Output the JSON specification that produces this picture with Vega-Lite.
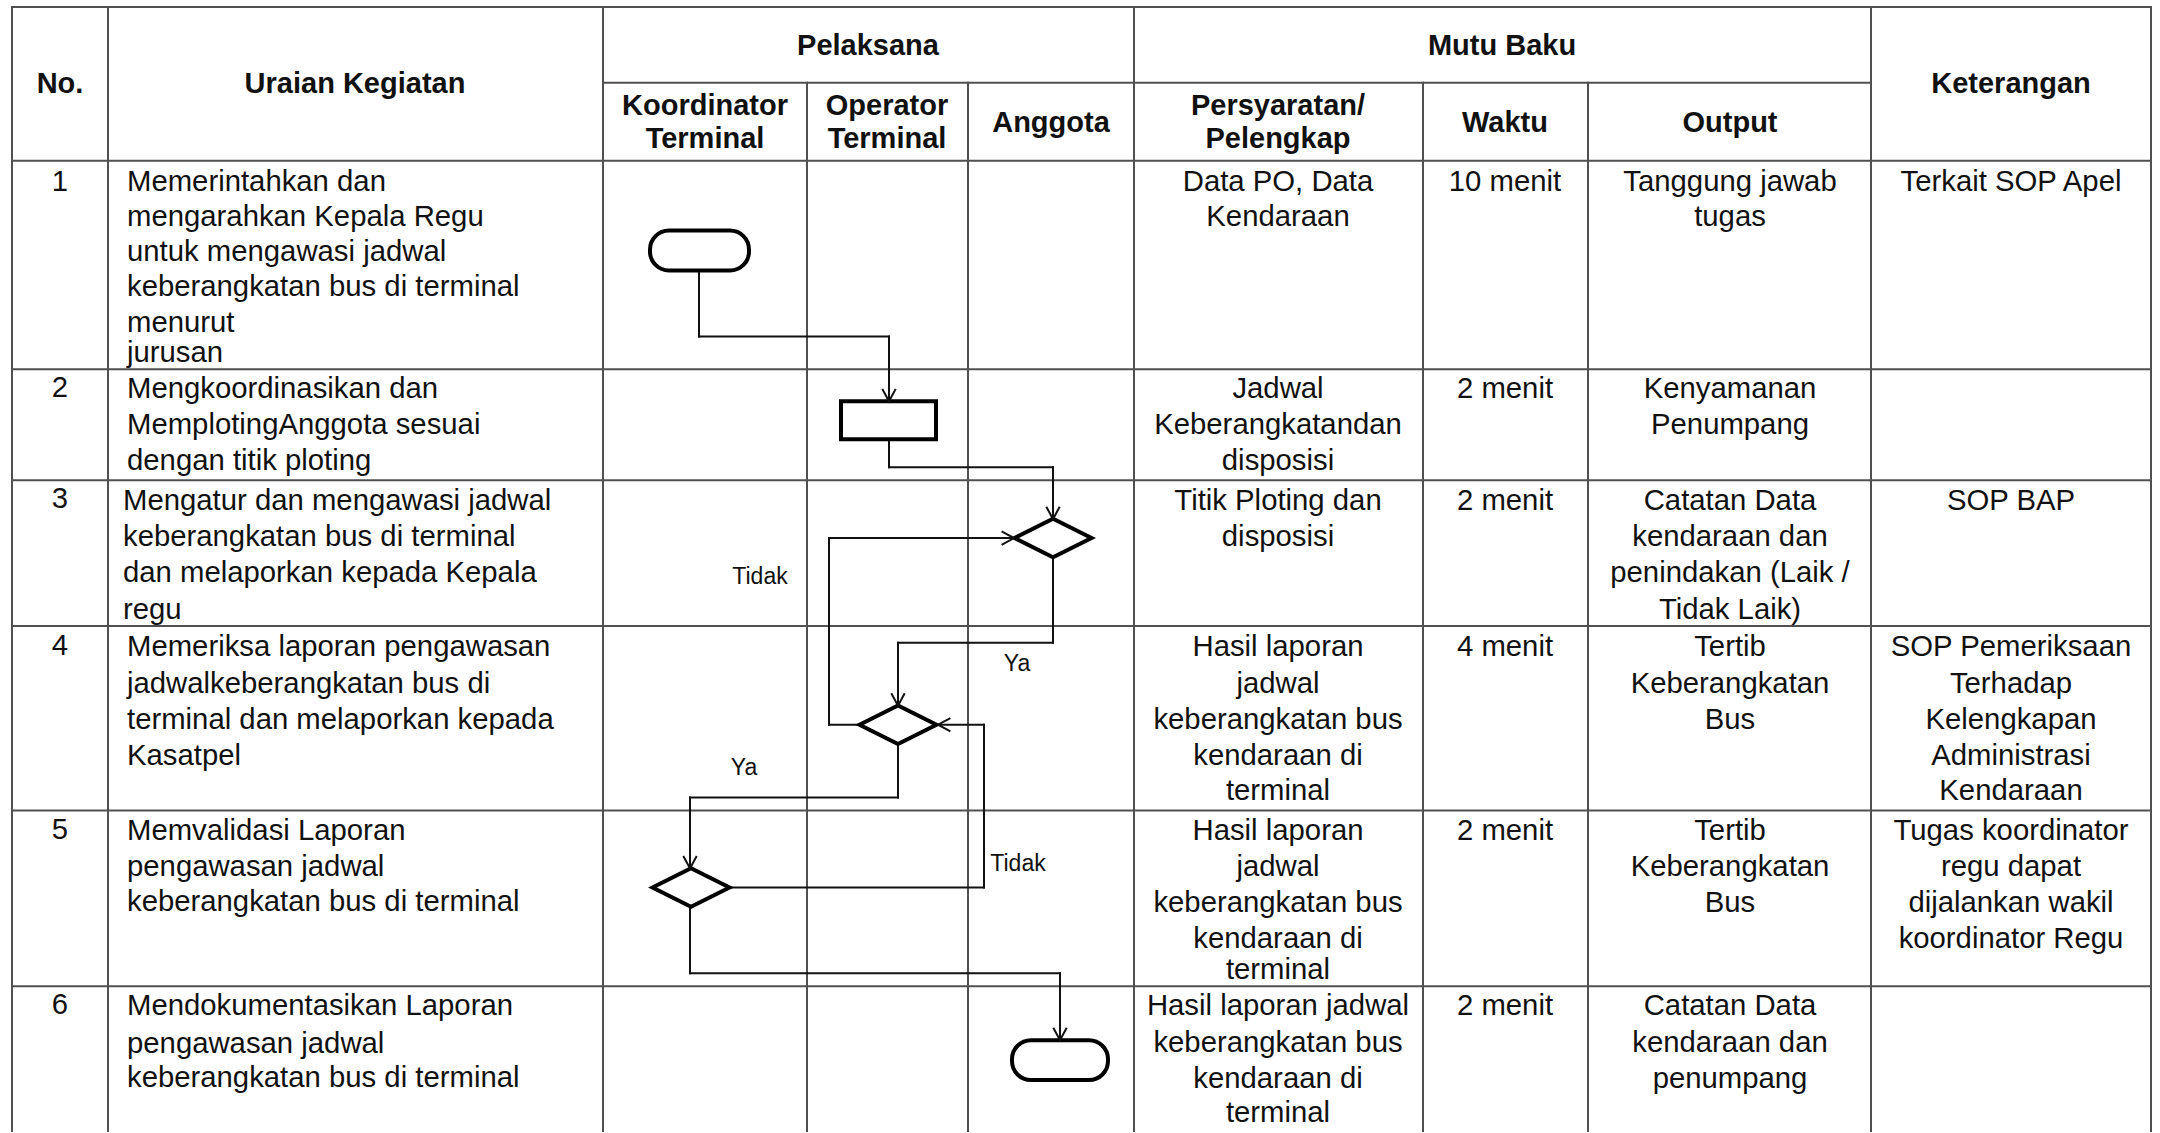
{
  "$schema": "https://vega.github.io/schema/vega-lite/v6.json",
  "width": 2160,
  "height": 1133,
  "autosize": {"type": "fit", "contains": "padding"},
  "padding": 0,
  "background": "white",
  "config": {"view": {"stroke": null}},
  "datasets": {
    "grid": [
      {"x": 12, "y": 7, "xe": 2151, "ye": 7},
      {"x": 603, "y": 83, "xe": 1871, "ye": 83},
      {"x": 12, "y": 161, "xe": 2151, "ye": 161},
      {"x": 12, "y": 370, "xe": 2151, "ye": 370},
      {"x": 12, "y": 481, "xe": 2151, "ye": 481},
      {"x": 12, "y": 627, "xe": 2151, "ye": 627},
      {"x": 12, "y": 812, "xe": 2151, "ye": 812},
      {"x": 12, "y": 988, "xe": 2151, "ye": 988},
      {"x": 12, "y": 7, "xe": 12, "ye": 1133},
      {"x": 108, "y": 7, "xe": 108, "ye": 1133},
      {"x": 603, "y": 7, "xe": 603, "ye": 1133},
      {"x": 1134, "y": 7, "xe": 1134, "ye": 1133},
      {"x": 1871, "y": 7, "xe": 1871, "ye": 1133},
      {"x": 2151, "y": 7, "xe": 2151, "ye": 1133},
      {"x": 807, "y": 83, "xe": 807, "ye": 1133},
      {"x": 968, "y": 83, "xe": 968, "ye": 1133},
      {"x": 1423, "y": 83, "xe": 1423, "ye": 1133},
      {"x": 1588, "y": 83, "xe": 1588, "ye": 1133}
    ],
    "conn": [
      {"x": 699, "y": 271, "xe": 699, "ye": 337},
      {"x": 699, "y": 337, "xe": 889, "ye": 337},
      {"x": 889, "y": 337, "xe": 889, "ye": 402},
      {"x": 889, "y": 440, "xe": 889, "ye": 468},
      {"x": 889, "y": 468, "xe": 1053, "ye": 468},
      {"x": 1053, "y": 468, "xe": 1053, "ye": 520},
      {"x": 860, "y": 726, "xe": 829, "ye": 726},
      {"x": 829, "y": 726, "xe": 829, "ye": 539},
      {"x": 829, "y": 539, "xe": 1014, "ye": 539},
      {"x": 1053, "y": 559, "xe": 1053, "ye": 644},
      {"x": 1053, "y": 644, "xe": 898, "ye": 644},
      {"x": 898, "y": 644, "xe": 898, "ye": 707},
      {"x": 898, "y": 746, "xe": 898, "ye": 799},
      {"x": 898, "y": 799, "xe": 690, "ye": 799},
      {"x": 690, "y": 799, "xe": 690, "ye": 870},
      {"x": 729, "y": 889, "xe": 984, "ye": 889},
      {"x": 984, "y": 889, "xe": 984, "ye": 726},
      {"x": 984, "y": 726, "xe": 938, "ye": 726},
      {"x": 690, "y": 907, "xe": 690, "ye": 975},
      {"x": 690, "y": 975, "xe": 1060, "ye": 975},
      {"x": 1060, "y": 975, "xe": 1060, "ye": 1042}
    ],
    "arrows": [
      {"x": 889, "y": 402, "a": 0},
      {"x": 1053, "y": 520, "a": 0},
      {"x": 1014, "y": 539, "a": -90},
      {"x": 898, "y": 707, "a": 0},
      {"x": 690, "y": 870, "a": 0},
      {"x": 938, "y": 726, "a": 90},
      {"x": 1060, "y": 1042, "a": 0}
    ],
    "procs": [
      {"x": 841, "y": 402, "xe": 936, "ye": 440}
    ],
    "terms": [
      {"x": 650, "y": 231, "xe": 749, "ye": 271},
      {"x": 1012, "y": 1042, "xe": 1108, "ye": 1082}
    ],
    "diamonds": [
      {"x": 1053, "y": 539},
      {"x": 898, "y": 726},
      {"x": 691, "y": 889}
    ],
    "hdr": [
      {"t": "No.", "x": 60, "y": 84},
      {"t": "Uraian Kegiatan", "x": 355, "y": 84},
      {"t": "Pelaksana", "x": 868, "y": 46},
      {"t": "Mutu Baku", "x": 1502, "y": 46},
      {"t": "Keterangan", "x": 2011, "y": 84},
      {"t": "Koordinator", "x": 705, "y": 106},
      {"t": "Terminal", "x": 705, "y": 139},
      {"t": "Operator", "x": 887, "y": 106},
      {"t": "Terminal", "x": 887, "y": 139},
      {"t": "Anggota", "x": 1051, "y": 123},
      {"t": "Persyaratan/", "x": 1278, "y": 106},
      {"t": "Pelengkap", "x": 1278, "y": 139},
      {"t": "Waktu", "x": 1505, "y": 123},
      {"t": "Output", "x": 1730, "y": 123}
    ],
    "left": [
      {"t": "Memerintahkan dan", "x": 127, "y": 182},
      {"t": "mengarahkan Kepala Regu", "x": 127, "y": 217},
      {"t": "untuk mengawasi jadwal", "x": 127, "y": 252},
      {"t": "keberangkatan bus di terminal", "x": 127, "y": 288},
      {"t": "menurut", "x": 127, "y": 324},
      {"t": "jurusan", "x": 127, "y": 354},
      {"t": "Mengkoordinasikan dan", "x": 127, "y": 390},
      {"t": "MemplotingAnggota sesuai", "x": 127, "y": 426},
      {"t": "dengan titik ploting", "x": 127, "y": 462},
      {"t": "Mengatur dan mengawasi jadwal", "x": 123, "y": 502},
      {"t": "keberangkatan bus di terminal", "x": 123, "y": 538},
      {"t": "dan melaporkan kepada Kepala", "x": 123, "y": 574},
      {"t": "regu", "x": 123, "y": 611},
      {"t": "Memeriksa laporan pengawasan", "x": 127, "y": 648},
      {"t": "jadwalkeberangkatan bus di", "x": 127, "y": 685},
      {"t": "terminal dan melaporkan kepada", "x": 127, "y": 721},
      {"t": "Kasatpel", "x": 127, "y": 757},
      {"t": "Memvalidasi Laporan", "x": 127, "y": 832},
      {"t": "pengawasan jadwal", "x": 127, "y": 869},
      {"t": "keberangkatan bus di terminal", "x": 127, "y": 904},
      {"t": "Mendokumentasikan Laporan", "x": 127, "y": 1008},
      {"t": "pengawasan jadwal", "x": 127, "y": 1046},
      {"t": "keberangkatan bus di terminal", "x": 127, "y": 1080}
    ],
    "ctr": [
      {"t": "1", "x": 60, "y": 182},
      {"t": "2", "x": 60, "y": 389},
      {"t": "3", "x": 60, "y": 500},
      {"t": "4", "x": 60, "y": 647},
      {"t": "5", "x": 60, "y": 831},
      {"t": "6", "x": 60, "y": 1007},
      {"t": "Data PO, Data", "x": 1278, "y": 182},
      {"t": "Kendaraan", "x": 1278, "y": 217},
      {"t": "Jadwal", "x": 1278, "y": 390},
      {"t": "Keberangkatandan", "x": 1278, "y": 426},
      {"t": "disposisi", "x": 1278, "y": 462},
      {"t": "Titik Ploting dan", "x": 1278, "y": 502},
      {"t": "disposisi", "x": 1278, "y": 538},
      {"t": "Hasil laporan", "x": 1278, "y": 648},
      {"t": "jadwal", "x": 1278, "y": 685},
      {"t": "keberangkatan bus", "x": 1278, "y": 721},
      {"t": "kendaraan di", "x": 1278, "y": 757},
      {"t": "terminal", "x": 1278, "y": 792},
      {"t": "Hasil laporan", "x": 1278, "y": 832},
      {"t": "jadwal", "x": 1278, "y": 869},
      {"t": "keberangkatan bus", "x": 1278, "y": 905},
      {"t": "kendaraan di", "x": 1278, "y": 941},
      {"t": "terminal", "x": 1278, "y": 972},
      {"t": "Hasil laporan jadwal", "x": 1278, "y": 1008},
      {"t": "keberangkatan bus", "x": 1278, "y": 1045},
      {"t": "kendaraan di", "x": 1278, "y": 1081},
      {"t": "terminal", "x": 1278, "y": 1115},
      {"t": "10 menit", "x": 1505, "y": 182},
      {"t": "2 menit", "x": 1505, "y": 390},
      {"t": "2 menit", "x": 1505, "y": 502},
      {"t": "4 menit", "x": 1505, "y": 648},
      {"t": "2 menit", "x": 1505, "y": 832},
      {"t": "2 menit", "x": 1505, "y": 1008},
      {"t": "Tanggung jawab", "x": 1730, "y": 182},
      {"t": "tugas", "x": 1730, "y": 217},
      {"t": "Kenyamanan", "x": 1730, "y": 390},
      {"t": "Penumpang", "x": 1730, "y": 426},
      {"t": "Catatan Data", "x": 1730, "y": 502},
      {"t": "kendaraan dan", "x": 1730, "y": 538},
      {"t": "penindakan (Laik /", "x": 1730, "y": 574},
      {"t": "Tidak Laik)", "x": 1730, "y": 611},
      {"t": "Tertib", "x": 1730, "y": 648},
      {"t": "Keberangkatan", "x": 1730, "y": 685},
      {"t": "Bus", "x": 1730, "y": 721},
      {"t": "Tertib", "x": 1730, "y": 832},
      {"t": "Keberangkatan", "x": 1730, "y": 869},
      {"t": "Bus", "x": 1730, "y": 905},
      {"t": "Catatan Data", "x": 1730, "y": 1008},
      {"t": "kendaraan dan", "x": 1730, "y": 1045},
      {"t": "penumpang", "x": 1730, "y": 1081},
      {"t": "Terkait SOP Apel", "x": 2011, "y": 182},
      {"t": "SOP BAP", "x": 2011, "y": 502},
      {"t": "SOP Pemeriksaan", "x": 2011, "y": 648},
      {"t": "Terhadap", "x": 2011, "y": 685},
      {"t": "Kelengkapan", "x": 2011, "y": 721},
      {"t": "Administrasi", "x": 2011, "y": 757},
      {"t": "Kendaraan", "x": 2011, "y": 792},
      {"t": "Tugas koordinator", "x": 2011, "y": 832},
      {"t": "regu dapat", "x": 2011, "y": 869},
      {"t": "dijalankan wakil", "x": 2011, "y": 905},
      {"t": "koordinator Regu", "x": 2011, "y": 941}
    ],
    "lbl": [
      {"t": "Tidak", "x": 760, "y": 578},
      {"t": "Ya", "x": 1017, "y": 665},
      {"t": "Ya", "x": 744, "y": 769},
      {"t": "Tidak", "x": 1018, "y": 866}
    ]
  },
  "encoding": {
    "x": {"field": "x", "type": "quantitative", "scale": {"domain": [0, 2160], "nice": false, "zero": false}, "axis": null},
    "y": {"field": "y", "type": "quantitative", "scale": {"domain": [0, 1133], "nice": false, "zero": false, "reverse": true}, "axis": null}
  },
  "layer": [
    {
      "data": {"name": "grid"},
      "mark": {"type": "rule", "stroke": "#505050", "strokeWidth": 2, "strokeCap": "square"},
      "encoding": {"x2": {"field": "xe"}, "y2": {"field": "ye"}}
    },
    {
      "data": {"name": "conn"},
      "mark": {"type": "rule", "stroke": "#111111", "strokeWidth": 2, "strokeCap": "square"},
      "encoding": {"x2": {"field": "xe"}, "y2": {"field": "ye"}}
    },
    {
      "data": {"name": "procs"},
      "mark": {"type": "rect", "fill": "white", "stroke": "black", "strokeWidth": 4},
      "encoding": {"x2": {"field": "xe"}, "y2": {"field": "ye"}}
    },
    {
      "data": {"name": "terms"},
      "mark": {"type": "rect", "fill": "white", "stroke": "black", "strokeWidth": 4, "cornerRadius": 19},
      "encoding": {"x2": {"field": "xe"}, "y2": {"field": "ye"}}
    },
    {
      "data": {"name": "diamonds"},
      "mark": {"type": "point", "shape": "M -1 0 L 0 -0.5 L 1 0 L 0 0.5 Z", "size": 5929, "filled": true, "fill": "white", "stroke": "black", "strokeWidth": 4, "opacity": 1, "strokeJoin": "miter"}
    },
    {
      "data": {"name": "arrows"},
      "mark": {"type": "point", "shape": "M -1 -1.85 L 0 0 L 1 -1.85", "size": 180, "filled": false, "stroke": "#111111", "strokeWidth": 2, "opacity": 1},
      "encoding": {"angle": {"field": "a", "type": "quantitative", "scale": null}}
    },
    {
      "data": {"name": "hdr"},
      "mark": {"type": "text", "font": "Liberation Sans", "fontSize": 29, "fontWeight": "bold", "align": "center", "baseline": "middle", "color": "#111111"},
      "encoding": {"text": {"field": "t"}}
    },
    {
      "data": {"name": "left"},
      "mark": {"type": "text", "font": "Liberation Sans", "fontSize": 29.3, "align": "left", "baseline": "middle", "color": "#111111"},
      "encoding": {"text": {"field": "t"}}
    },
    {
      "data": {"name": "ctr"},
      "mark": {"type": "text", "font": "Liberation Sans", "fontSize": 29.3, "align": "center", "baseline": "middle", "color": "#111111"},
      "encoding": {"text": {"field": "t"}}
    },
    {
      "data": {"name": "lbl"},
      "mark": {"type": "text", "font": "Liberation Sans", "fontSize": 23, "align": "center", "baseline": "middle", "color": "#111111"},
      "encoding": {"text": {"field": "t"}}
    }
  ]
}
